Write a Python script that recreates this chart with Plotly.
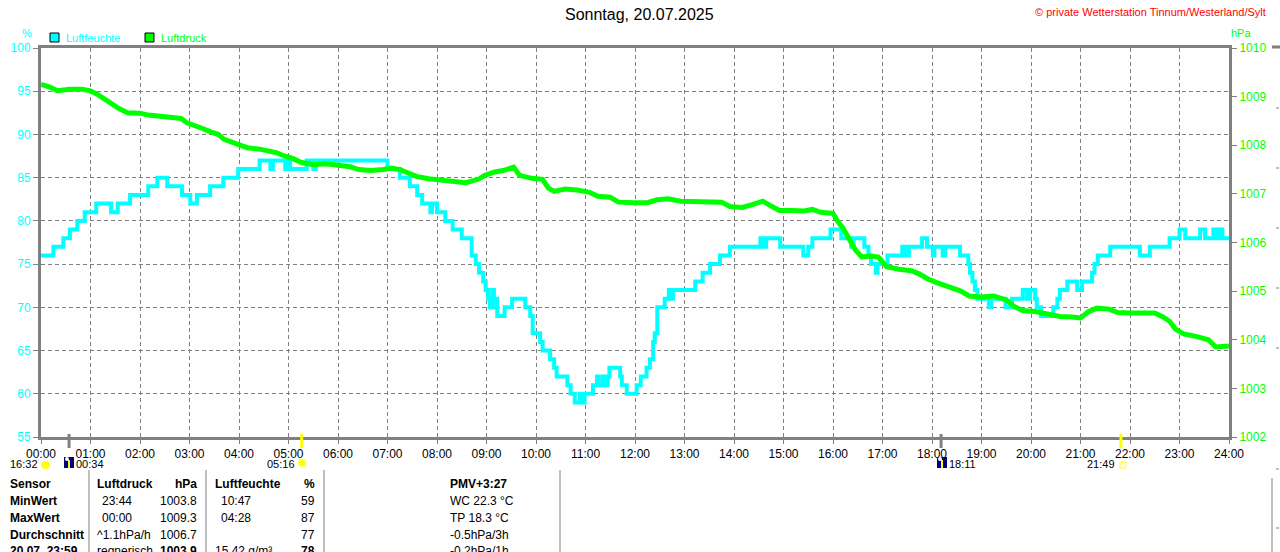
import plotly.graph_objects as go

# Luftfeuchte (%) - Zeitpunkte der Wertaenderung
hum_time = ["00:00", "00:15", "00:27", "00:35", "00:44", "00:53", "01:07", "01:25", "01:33", "01:48",
            "02:10", "02:21", "02:33", "02:51", "03:01", "03:09", "03:25", "03:41", "03:59", "04:25",
            "04:38", "04:41", "04:56", "04:59", "05:02", "05:22", "05:30", "05:33", "07:00", "07:15",
            "07:27", "07:36", "07:42", "07:52", "07:54", "08:00", "08:10", "08:19", "08:30", "08:42",
            "08:47", "08:51", "08:56", "08:59", "09:02", "09:04", "09:07", "09:09", "09:12", "09:13",
            "09:22", "09:31", "09:47", "09:53", "09:56", "10:05", "10:08", "10:17", "10:22", "10:25",
            "10:38", "10:42", "10:47", "10:53", "10:56", "10:59", "11:09", "11:14", "11:16", "11:21",
            "11:23", "11:27", "11:29", "11:42", "11:44", "11:50", "12:02", "12:07", "12:14", "12:18",
            "12:22", "12:24", "12:27", "12:36", "12:41", "12:45", "12:46", "13:13", "13:22", "13:31",
            "13:43", "13:55", "14:32", "14:35", "14:39", "14:44", "14:56", "15:24", "15:30", "15:35",
            "15:46", "15:57", "16:10", "16:22", "16:25", "16:30", "16:38", "16:43", "16:46", "16:52",
            "16:54", "17:06", "17:24", "17:27", "17:32", "17:48", "17:54", "18:01", "18:03", "18:13",
            "18:16", "18:34", "18:44", "18:46", "18:49", "18:52", "18:55", "19:09", "19:12", "19:29",
            "19:37", "19:50", "19:55", "19:59", "20:05", "20:07", "20:12", "20:27", "20:32", "20:35",
            "20:44", "20:56", "21:02", "21:14", "21:17", "21:21", "21:36", "22:12", "22:24", "22:48",
            "23:00", "23:07", "23:25", "23:31", "23:41", "23:45", "23:49", "23:52", "24:00"]
hum_val = [76, 77, 78, 79, 80, 81, 82, 81, 82, 83,
           84, 85, 84, 83, 82, 83, 84, 85, 86, 87,
           86, 87, 86, 87, 86, 87, 86, 87, 86, 85,
           84, 83, 82, 81, 82, 81, 80, 79, 78, 76,
           75, 74, 73, 72, 71, 70, 72, 70, 71, 69,
           70, 71, 70, 69, 67, 66, 65, 64, 63, 62,
           61, 60, 59, 60, 59, 60, 61, 62, 61, 62,
           61, 62, 63, 62, 61, 60, 61, 62, 63, 64,
           66, 67, 70, 71, 72, 71, 72, 73, 74, 75,
           76, 77, 78, 77, 78, 78, 77, 76, 77, 78,
           78, 79, 78, 77, 78, 78, 77, 76, 75, 74,
           75, 76, 77, 76, 77, 78, 77, 76, 77, 76,
           77, 76, 75, 74, 73, 72, 71, 70, 71, 70,
           71, 72, 71, 72, 71, 70, 69, 70, 71, 72,
           73, 72, 73, 74, 75, 76, 77, 76, 77, 78,
           79, 78, 79, 78, 79, 78, 79, 78, 78]

# Luftdruck (hPa)
p_time = ["00:00", "00:10", "00:20", "00:35", "00:50", "01:00", "01:08", "01:17", "01:25", "01:35",
          "01:45", "02:00", "02:10", "02:20", "02:35", "02:50", "02:57", "03:05", "03:15", "03:25",
          "03:35", "03:42", "03:50", "04:00", "04:10", "04:25", "04:35", "04:45", "04:55", "05:05",
          "05:15", "05:30", "05:45", "06:00", "06:15", "06:25", "06:40", "06:55", "07:05", "07:15",
          "07:25", "07:35", "07:50", "08:05", "08:20", "08:35", "08:50", "08:58", "09:10", "09:20",
          "09:33", "09:40", "09:55", "10:08", "10:15", "10:22", "10:35", "10:50", "11:05", "11:15",
          "11:30", "11:40", "12:00", "12:15", "12:27", "12:40", "12:55", "13:10", "13:30", "13:45",
          "13:55", "14:10", "14:22", "14:35", "14:45", "14:55", "15:10", "15:25", "15:35", "15:45",
          "16:00", "16:05", "16:12", "16:20", "16:27", "16:35", "16:45", "16:55", "17:05", "17:20",
          "17:35", "17:45", "17:55", "18:05", "18:20", "18:35", "18:45", "19:00", "19:15", "19:30",
          "19:40", "19:50", "20:05", "20:20", "20:35", "20:50", "21:00", "21:10", "21:20", "21:35",
          "21:45", "22:00", "22:15", "22:30", "22:40", "22:48", "22:55", "23:05", "23:20", "23:35",
          "23:44", "24:00"]
p_val = [1009.25, 1009.2, 1009.12, 1009.15, 1009.15, 1009.12, 1009.05, 1008.95, 1008.85, 1008.75,
         1008.67, 1008.66, 1008.62, 1008.6, 1008.58, 1008.55, 1008.46, 1008.42, 1008.35, 1008.28,
         1008.22, 1008.12, 1008.07, 1008.0, 1007.95, 1007.92, 1007.88, 1007.85, 1007.78, 1007.73,
         1007.65, 1007.6, 1007.62, 1007.58, 1007.56, 1007.5, 1007.48, 1007.5, 1007.53, 1007.5,
         1007.42, 1007.36, 1007.31, 1007.28, 1007.25, 1007.23, 1007.3, 1007.38, 1007.45, 1007.48,
         1007.55, 1007.38, 1007.32, 1007.3, 1007.12, 1007.05, 1007.1, 1007.08, 1007.03, 1006.95,
         1006.93, 1006.83, 1006.82, 1006.82, 1006.88, 1006.9, 1006.85, 1006.84, 1006.84, 1006.83,
         1006.74, 1006.72, 1006.78, 1006.85, 1006.75, 1006.66, 1006.66, 1006.65, 1006.68, 1006.62,
         1006.6, 1006.45, 1006.3, 1006.05, 1005.85, 1005.7, 1005.72, 1005.7, 1005.5, 1005.45,
         1005.42, 1005.35, 1005.25, 1005.18, 1005.08, 1005.0, 1004.9, 1004.88, 1004.9, 1004.82,
         1004.68, 1004.6, 1004.58, 1004.52, 1004.48, 1004.47, 1004.45, 1004.58, 1004.65, 1004.63,
         1004.56, 1004.55, 1004.56, 1004.55, 1004.47, 1004.38, 1004.22, 1004.12, 1004.07, 1004.0,
         1003.85, 1003.87]

hours = list(range(25))
hour_labels = ["%02d:00" % h for h in hours]
hum_ticks = list(range(55, 101, 5))
p_ticks = list(range(1002, 1011))

# Sonne/Mond Ereignisse unter der Zeitachse
event_time = ["00:34", "05:16", "18:11", "21:49"]
event_color = ["#808080", "#ffff00", "#808080", "#ffff00"]

# Tabelle
table_rows = ["Sensor", "MinWert", "MaxWert", "Durchschnitt", "20.07. 23:59"]
p_col_a = ["<b>Luftdruck</b>", "23:44", "00:00", "^1.1hPa/h", "regnerisch"]
p_col_b = ["<b>hPa</b>", "1003.8", "1009.3", "1006.7", "<b>1003.9</b>"]
h_col_a = ["<b>Luftfeuchte</b>", "10:47", "04:28", "", "15.42 g/m³"]
h_col_b = ["<b>%</b>", "59", "87", "77", "<b>78</b>"]
extra_col = ["<b>PMV+3:27</b>", "WC 22.3 °C", "TP 18.3 °C", "-0.5hPa/3h", "-0.2hPa/1h"]


def hm(s):
    h, m = s.split(":")
    return int(h) + int(m) / 60


L, R, T, B = 41, 1229, 48, 437
def px(x):
    return (x - L) / (R - L)
def py(y):
    return (B - y) / (B - T)

FONT = "Liberation Sans"
GRAY = "#808080"
CYAN = "#00ffff"
GREEN = "#00ff00"

fig = go.Figure()
fig.add_trace(go.Scatter(x=[hm(t) for t in p_time], y=p_val, yaxis="y2", mode="lines",
                         line=dict(color=GREEN, width=5), name="Luftdruck"))
fig.add_trace(go.Scatter(x=[hm(t) for t in hum_time], y=hum_val, mode="lines",
                         line=dict(color=CYAN, width=4, shape="hv"), name="Luftfeuchte"))

shapes = []
anns = []

def text(x, y, s, color="black", size=12, xa="left", ya="middle"):
    anns.append(dict(x=px(x), y=py(y), xref="paper", yref="paper", text=s, showarrow=False,
                     xanchor=xa, yanchor=ya, font=dict(family=FONT, size=size, color=color)))

def pline(x0, y0, x1, y1, color=GRAY, width=1, dash="solid"):
    shapes.append(dict(type="line", xref="paper", yref="paper", x0=px(x0), x1=px(x1),
                       y0=py(y0), y1=py(y1), line=dict(color=color, width=width, dash=dash)))

# Titel, Copyright, Einheiten, Legende
text(639, 15, "Sonntag, 20.07.2025", size=16, xa="center")
text(1268, 12, "© private Wetterstation Tinnum/Westerland/Sylt", color="red", size=11, xa="right")
text(27, 33, "%", color=CYAN, size=11, xa="center")
text(1241, 33, "hPa", color=GREEN, size=11, xa="center")
for x0, col, lab in [(50, CYAN, "Luftfeuchte"), (145, GREEN, "Luftdruck")]:
    shapes.append(dict(type="rect", xref="paper", yref="paper", x0=px(x0), x1=px(x0 + 9),
                       y0=py(33), y1=py(42), fillcolor=col, line=dict(color="black", width=1)))
    text(x0 + 14, 38, lab, color=col, size=11)

# Ereignis-Striche
for t, c in zip(event_time, event_color):
    shapes.append(dict(type="line", xref="x", yref="paper", x0=hm(t), x1=hm(t),
                       y0=py(434), y1=py(448), line=dict(color=c, width=3)))

# Ereignis-Beschriftungen mit Symbolen
text(40, 464, "16:32", size=11, xa="right")
shapes.append(dict(type="circle", xref="paper", yref="paper", x0=px(41), x1=px(50),
                   y0=py(461), y1=py(469), fillcolor="#ffff00", line=dict(width=0)))
for x0, lab in [(64, "00:34"), (937, "18:11")]:
    shapes.append(dict(type="rect", xref="paper", yref="paper", x0=px(x0), x1=px(x0 + 10),
                       y0=py(457), y1=py(468), fillcolor="#000080", line=dict(width=0)))
    shapes.append(dict(type="rect", xref="paper", yref="paper", x0=px(x0 + 4), x1=px(x0 + 6),
                       y0=py(460), y1=py(468), fillcolor="#ffff00", line=dict(width=0)))
    shapes.append(dict(type="circle", xref="paper", yref="paper", x0=px(x0 + 1), x1=px(x0 + 5),
                       y0=py(457), y1=py(461), fillcolor="white", line=dict(width=0)))
    text(x0 + 10, 464, lab, size=11)
text(297, 464, "05:16", size=11, xa="right")
shapes.append(dict(type="circle", xref="paper", yref="paper", x0=px(298), x1=px(306),
                   y0=py(459), y1=py(467), fillcolor="#ffff00", line=dict(color="#ffff99", width=1)))
text(1117, 464, "21:49", size=11, xa="right")
shapes.append(dict(type="rect", xref="paper", yref="paper", x0=px(1120), x1=px(1126),
                   y0=py(462), y1=py(468), line=dict(color="#ffff00", width=1)))

# Tabelle
for x in [89, 206, 324, 560]:
    pline(x, 470, x, 560)
row_y = [484, 501, 518, 535, 551]
for i, y in enumerate(row_y):
    text(8, y, "<b>%s</b>" % table_rows[i])
    text(95 if i in (0, 3, 4) else 100, y, p_col_a[i])
    text(199, y, p_col_b[i], xa="right")
    text(213 if i in (0, 4) else 219, y, h_col_a[i])
    text(317, y, h_col_b[i], xa="right")
    text(448, y, extra_col[i])

# Rand des naechsten Diagramms ganz rechts
pline(1272, 47, 1280, 47, width=3)
pline(1272, 478, 1272, 560)
for y in [108, 168, 228, 288, 348, 469, 528]:
    pline(1276, y, 1280, y, dash="dot")

fig.update_layout(
    width=1280, height=552,
    margin=dict(l=L, r=1280 - R, t=T, b=552 - B),
    paper_bgcolor="white", plot_bgcolor="white",
    showlegend=False,
    font=dict(family=FONT, size=12, color="black"),
    xaxis=dict(range=[0, 24], tickvals=hours, ticktext=hour_labels, showgrid=True,
               gridcolor=GRAY, griddash="4px,3px", gridwidth=1, zeroline=False,
               showline=True, mirror=True, linecolor=GRAY, linewidth=3,
               ticks="outside", ticklen=4, tickcolor=GRAY, tickfont=dict(size=12, color="black")),
    yaxis=dict(range=[55, 100], tickvals=hum_ticks, showgrid=True, gridcolor=GRAY,
               griddash="4px,3px", gridwidth=1, zeroline=False, showline=True,
               linecolor=GRAY, linewidth=3, ticks="outside", ticklen=5, tickcolor=GRAY,
               tickfont=dict(size=12, color=CYAN)),
    yaxis2=dict(range=[1002, 1010], tickvals=p_ticks, overlaying="y", side="right",
                showgrid=False, zeroline=False, showline=True, linecolor=GRAY, linewidth=3,
                ticks="outside", ticklen=5, tickcolor=GRAY, tickfont=dict(size=12, color=GREEN)),
    shapes=shapes,
    annotations=anns,
)

# Seitenrand des Browsers entfernen, damit das Bild bei 0/0 beginnt
fig.write_html("out.html", config={"displayModeBar": False},
               post_script="document.body.style.margin='0';")
